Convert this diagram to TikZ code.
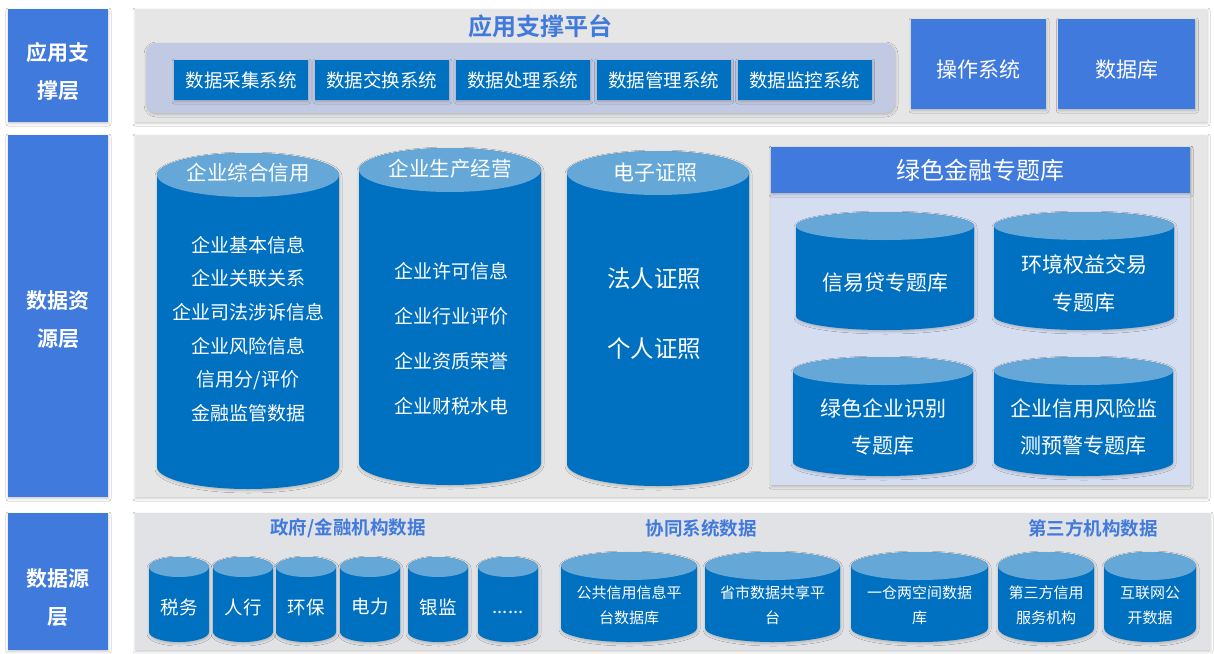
\documentclass[tikz,border=0pt]{standalone}
\usepackage{fontspec}
\setmainfont{Noto Sans CJK SC}[BoldFont={Noto Sans CJK SC Bold}]
\usepackage{tikz}
\usetikzlibrary{calc, shadows.blur, positioning}

\definecolor{layerblue}{RGB}{65,122,221}
\definecolor{dbblue}{RGB}{0,112,192}
\definecolor{dbtop}{RGB}{101,168,216}
\definecolor{panelgray}{RGB}{230,230,230}
\definecolor{srcgray}{RGB}{225,226,229}
\definecolor{platfill}{RGB}{194,202,227}
\definecolor{gffill}{RGB}{213,221,240}

% cylinder: left x, right x, top centre y, side end y, y radius
\newcommand{\dbcyl}[5]{%
  \fill[dbblue, softshadow] (#1,#3) -- (#1,#4) arc[start angle=180, end angle=360, x radius={(#2-#1)/2}, y radius=#5] -- (#2,#3) arc[start angle=0, end angle=180, x radius={(#2-#1)/2}, y radius=#5] -- cycle;
  \fill[dbtop] ({(#1+#2)/2},#3) ellipse[x radius={(#2-#1)/2}, y radius=#5];
}

\begin{document}
\begin{tikzpicture}[x=1pt, y=1pt]
    \tikzstyle{softshadow} = [blur shadow={shadow xshift=0.5pt, shadow yshift=-1.5pt, shadow blur radius=2.5pt, shadow opacity=22}]
    \tikzstyle{layerbox} = [rectangle, fill=layerblue, inner sep=0pt, softshadow]
    \tikzstyle{layertext} = [text=white, align=center, inner sep=0pt, font=\fontsize{21}{38}\selectfont\bfseries]
    \tikzstyle{panel} = [rectangle, fill=panelgray, inner sep=0pt, softshadow]
    \tikzstyle{platform} = [rectangle, fill=platfill, rounded corners=10pt, inner sep=0pt, softshadow]
    \tikzstyle{sysbox} = [rectangle, fill=dbblue, text=white, minimum width=134pt, minimum height=40pt, inner sep=0pt, font=\fontsize{18.5}{20}\selectfont, softshadow]
    \tikzstyle{bluebox} = [rectangle, fill=layerblue, text=white, inner sep=0pt, font=\fontsize{21}{24}\selectfont, softshadow]
    \tikzstyle{title} = [text=layerblue, font=\fontsize{24}{26}\selectfont\bfseries]
    \tikzstyle{srctitle} = [text=layerblue, font=\fontsize{18.5}{20}\selectfont\bfseries]
    \tikzstyle{cyltitle} = [text=white, font=\fontsize{20.5}{22}\selectfont]
    \tikzstyle{cyltext} = [text=white, align=center, inner sep=0pt]

    \fill[white] (0,0) rectangle (1214,-653);
    \useasboundingbox (0,0) rectangle (1214,-653);

    % background panels
    \node[panel, minimum width=1072pt, minimum height=113pt] (appPanel) at (671,-65.5) {};
    \node[panel, minimum width=1072pt, minimum height=362pt] (resPanel) at (671,-316) {};
    \node[panel, fill=srcgray, minimum width=1075pt, minimum height=137pt] (srcPanel) at (672.5,-581.5) {};

    % layer labels
    \node[layerbox, minimum width=100pt, minimum height=113pt] (appLayer) at (58,-65.5) {};
    \node[layertext] (appLayerText) at ([yshift=-6pt]appLayer.center) {应用支\\撑层};
    \node[layerbox, minimum width=100pt, minimum height=362pt] (resLayer) at (58,-316) {};
    \node[layertext] (resLayerText) at ([yshift=-4pt]resLayer.center) {数据资\\源层};
    \node[layerbox, minimum width=100pt, minimum height=137pt] (srcLayer) at (58,-581.5) {};
    \node[layertext] (srcLayerText) at ([yshift=-16pt]srcLayer.center) {数据源\\层};

    % application support platform
    \node[title] (platTitle) at (540,-26) {应用支撑平台};
    \node[platform, minimum width=749pt, minimum height=70pt] (platform) at (520.5,-78) {};
    \node[sysbox] (sysCollect) at (241,-80) {数据采集系统};
    \node[sysbox, right=6.5pt of sysCollect] (sysExchange) {数据交换系统};
    \node[sysbox, right=6.5pt of sysExchange] (sysProcess) {数据处理系统};
    \node[sysbox, right=6.5pt of sysProcess] (sysManage) {数据管理系统};
    \node[sysbox, right=6.5pt of sysManage] (sysMonitor) {数据监控系统};
    \node[bluebox, minimum width=135pt, minimum height=90pt, text height=28pt, text depth=2pt] (osBox) at (978.5,-64) {操作系统};
    \node[bluebox, minimum width=137pt, minimum height=90pt, text height=28pt, text depth=2pt, right=12pt of osBox] (dbBox) {数据库};

    % data resource layer
    \dbcyl{157}{339}{-175}{-467}{22}
    \node[cyltitle] (credTitle) at (248,-173) {企业综合信用};
    \node[cyltext, font=\fontsize{19}{33.7}\selectfont] (credItems) at (248,-329) {企业基本信息\\企业关联关系\\企业司法涉诉信息\\企业风险信息\\信用分/评价\\金融监管数据};

    \dbcyl{359}{541}{-170}{-463}{22}
    \node[cyltitle] (prodTitle) at (450,-169) {企业生产经营};
    \node[cyltext, font=\fontsize{19}{45}\selectfont] (prodItems) at (451,-339) {企业许可信息\\企业行业评价\\企业资质荣誉\\企业财税水电};

    \dbcyl{567}{749}{-173}{-464}{22}
    \node[cyltitle, font=\fontsize{21}{22}\selectfont] (licTitle) at (655,-173) {电子证照};
    \node[cyltext, font=\fontsize{23.5}{70}\selectfont] (licItems) at (654,-314) {法人证照\\个人证照};

    % green finance library
    \node[panel, fill=gffill, minimum width=419pt, minimum height=338pt] (gfPanel) at (980.5,-316) {};
    \node[bluebox, font=\fontsize{24}{26}\selectfont, minimum width=419pt, minimum height=46pt, anchor=north] (gfHead) at (gfPanel.north) {绿色金融专题库};
    \dbcyl{796}{974}{-226}{-316}{14}
    \node[cyltext, font=\fontsize{21}{37.5}\selectfont] (gfLoan) at (885,-283) {信易贷专题库};
    \dbcyl{994}{1174}{-226}{-316}{14}
    \node[cyltext, font=\fontsize{21}{37.5}\selectfont] (gfTrade) at (1084,-283.5) {环境权益交易\\专题库};
    \dbcyl{793}{973}{-371}{-462}{14}
    \node[cyltext, font=\fontsize{21}{37.5}\selectfont] (gfIdent) at (883,-427) {绿色企业识别\\专题库};
    \dbcyl{994}{1173}{-371}{-462}{14}
    \node[cyltext, font=\fontsize{21}{37.5}\selectfont] (gfRisk) at (1083.5,-427) {企业信用风险监\\测预警专题库};

    % data source layer
    \node[srctitle] (govTitle) at (348,-528) {政府/金融机构数据};
    \node[srctitle] (coTitle) at (701,-528) {协同系统数据};
    \node[srctitle] (thirdTitle) at (1093,-528) {第三方机构数据};

    \foreach \x/\name/\txt in {149/tax/税务, 213/pboc/人行, 276/env/环保, 340/power/电力, 408/cbrc/银监}{
        \dbcyl{\x}{\x+60}{-567}{-632}{10}
        \node[cyltext, font=\fontsize{18.5}{20}\selectfont] (\name) at (\x+30,-607) {\txt};
    }
    \dbcyl{478}{538}{-567}{-632}{10}
    \node[cyltext, font=\fontsize{18.5}{20}\selectfont, anchor=base] (etc) at (508,-613) {......};

    \dbcyl{561}{697}{-566}{-628}{14}
    \node[cyltext, font=\fontsize{15}{25}\selectfont] (pubCredit) at (629,-605.5) {公共信用信息平\\台数据库};
    \dbcyl{705}{840}{-566}{-628}{14}
    \node[cyltext, font=\fontsize{15}{25}\selectfont] (shareData) at (772.5,-605.5) {省市数据共享平\\台};
    \dbcyl{851}{988}{-566}{-628}{14}
    \node[cyltext, font=\fontsize{15}{25}\selectfont] (oneStore) at (919.5,-605.5) {一仓两空间数据\\库};
    \dbcyl{998}{1094}{-566}{-628}{14}
    \node[cyltext, font=\fontsize{15}{25}\selectfont] (thirdOrg) at (1046,-605.5) {第三方信用\\服务机构};
    \dbcyl{1104}{1196}{-566}{-628}{14}
    \node[cyltext, font=\fontsize{15}{25}\selectfont] (openData) at (1150,-605.5) {互联网公\\开数据};
\end{tikzpicture}
\end{document}
